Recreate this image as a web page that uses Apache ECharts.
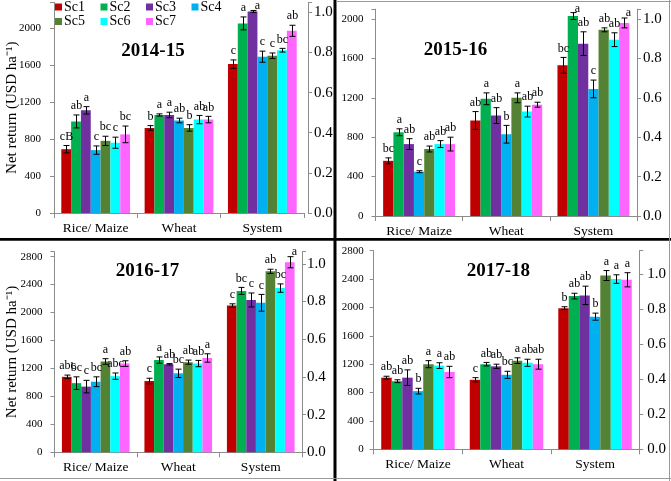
<!DOCTYPE html>
<html><head><meta charset="utf-8">
<script src="https://cdn.jsdelivr.net/npm/echarts@6/dist/echarts.min.js"></script>
<style>html,body{margin:0;padding:0;background:#fff}#c{width:671px;height:481px}</style>
</head><body><div id="c"></div><script>
const categories = ['Rice/ Maize', 'Wheat', 'System'];
const scenarios = ['Sc1', 'Sc2', 'Sc3', 'Sc4', 'Sc5', 'Sc6', 'Sc7'];
const years = ['2014-15', '2015-16', '2016-17', '2017-18'];
const colors = ['#C00000', '#00B050', '#7030A0', '#00B0F0', '#548235', '#00FFFF', '#FF66FF'];
const yName = 'Net return (USD ha\u207B\u00B9)';

// rows = scenarios Sc1..Sc7, cols = Rice/ Maize, Wheat, System
const val1415 = [[690, 920, 1610], [990, 1060, 2050], [1110, 1060, 2180], [680, 1000, 1690], [780, 920, 1700], [760, 1010, 1760], [850, 1010, 1970]];
const err1415 = [[40, 25, 45], [70, 12, 70], [40, 30, 10], [45, 25, 60], [50, 35, 30], [60, 45, 20], [90, 35, 60]];
const let1415 = [['cB', 'b', 'c'], ['ab', 'a', 'a'], ['a', 'a', 'a'], ['c', 'ab', 'c'], ['bc', 'b', 'c'], ['c', 'ab', 'bc'], ['bc', 'ab', 'ab']];

const val1516 = [[560, 970, 1530], [850, 1190, 2030], [730, 1020, 1750], [450, 830, 1290], [680, 1200, 1890], [730, 1060, 1790], [730, 1130, 1960]];
const err1516 = [[30, 90, 80], [35, 60, 35], [55, 80, 120], [10, 90, 90], [30, 50, 20], [35, 55, 70], [70, 25, 50]];
const let1516 = [['bc', 'ab', 'bc'], ['a', 'a', 'a'], ['ab', 'ab', 'ab'], ['c', 'b', 'c'], ['ab', 'a', 'ab'], ['ab', 'ab', 'ab'], ['ab', 'ab', 'a']];

const val1617 = [[1080, 1020, 2100], [990, 1320, 2310], [940, 1260, 2180], [1010, 1130, 2140], [1300, 1290, 2590], [1090, 1270, 2350], [1270, 1350, 2720]];
const err1617 = [[25, 40, 25], [90, 45, 50], [90, 10, 100], [70, 60, 120], [40, 30, 30], [45, 45, 60], [40, 60, 80]];
const let1617 = [['abc', 'c', 'c'], ['bc', 'a', 'bc'], ['c', 'ab', 'c'], ['bc', 'bc', 'c'], ['a', 'ab', 'ab'], ['abc', 'ab', 'bc'], ['ab', 'a', 'a']];

const val1718 = [[1010, 980, 1990], [960, 1200, 2160], [1010, 1170, 2170], [820, 1050, 1870], [1200, 1250, 2450], [1180, 1220, 2400], [1090, 1200, 2390]];
const err1718 = [[20, 30, 20], [20, 25, 40], [110, 30, 130], [40, 50, 50], [50, 40, 70], [40, 50, 60], [80, 70, 100]];
const let1718 = [['ab', 'c', 'b'], ['ab', 'ab', 'ab'], ['ab', 'ab', 'ab'], ['b', 'bc', 'b'], ['a', 'a', 'a'], ['a', 'ab', 'a'], ['ab', 'ab', 'a']];

const netMax = [2276, 2100, 2871, 2800];
const netStep = 400;
const idxMax = [1.049, 1.05, 1.064, 1.135];
const idxStep = 0.2;

const valueSets = [val1415, val1516, val1617, val1718];
const errSets = [err1415, err1516, err1617, err1718];
const letterSets = [let1415, let1516, let1617, let1718];

const SERIF = '"Liberation Serif", "Times New Roman", serif';
const AX = '#8c8c8c';

const layout = [
  { grid: { left: 54, top: 2.5, width: 250, height: 210.5 }, rOff: 4, gap: 0.175, lm: 13, rm: 6, title: [153, 51], name: true },
  { grid: { left: 375.5, top: 9.15, width: 261.5, height: 206.85 }, rOff: 0, gap: 0.175, lm: 12, rm: 6, title: [455.5, 50], name: false },
  { grid: { left: 54.5, top: 251.7, width: 247.5, height: 200.6 }, rOff: 0, gap: 0.18, lm: 12, rm: 5, title: [147.5, 271], name: true },
  { grid: { left: 373.7, top: 250.7, width: 265.6, height: 198.6 }, rOff: 0, gap: 0.17, lm: 10, rm: 8, title: [498.3, 271], name: false }
];

const grid = [], xAxis = [], yAxis = [], series = [], graphic = [];

function makeRender(p, letters) {
  const gapFrac = layout[p].gap;
  return function (params, api) {
    const ci = api.value(0), si = api.value(1), v = api.value(2), e = api.value(3);
    const letter = letters[params.dataIndex];
    const band = api.size([1, 0])[0];
    const groupW = band * (1 - gapFrac);
    const bw = groupW / 7;
    const c = api.coord([ci, v]);
    const x = Math.round(c[0] - groupW / 2 + (si + 0.5) * bw) + 0.5;
    const top = api.coord([ci, v + e])[1];
    const bot = api.coord([ci, v - e])[1];
    const cap = 3;
    const ls = { stroke: '#000', lineWidth: 1 };
    const cs = params.coordSys;
    let tx = x, ty = top - 3, va = 'bottom';
    if (top - 9 < cs.y) { tx = x + 4; ty = Math.max(cs.y, top - 5); va = 'middle'; }
    return {
      type: 'group',
      children: [
        { type: 'line', shape: { x1: x, y1: top, x2: x, y2: bot }, style: ls },
        { type: 'line', shape: { x1: x - cap, y1: top, x2: x + cap, y2: top }, style: ls },
        { type: 'line', shape: { x1: x - cap, y1: bot, x2: x + cap, y2: bot }, style: ls },
        { type: 'text', x: tx, y: ty, style: { text: letter, fontFamily: SERIF, fontSize: 12, fill: '#000', align: 'center', verticalAlign: va } }
      ]
    };
  };
}

for (let p = 0; p < 4; p++) {
  const L = layout[p];
  grid.push(Object.assign({ outerBoundsMode: 'none', containLabel: false }, L.grid));
  xAxis.push({
    type: 'category', gridIndex: p, data: categories,
    axisLine: { show: true, lineStyle: { color: AX, width: 1 } },
    axisTick: { show: true, length: 5, lineStyle: { color: AX } },
    axisLabel: { fontFamily: SERIF, fontSize: 13.5, color: '#000', margin: 8, interval: 0, hideOverlap: false },
    splitLine: { show: false }
  });
  yAxis.push({
    type: 'value', gridIndex: p, position: 'left', min: 0, max: netMax[p], interval: netStep,
    axisLine: { show: true, lineStyle: { color: AX } },
    axisTick: { show: true, length: 4, lineStyle: { color: AX } },
    splitLine: { show: false },
    axisLabel: {
      fontFamily: SERIF, fontSize: 11, color: '#000', margin: L.lm,
      formatter: v => (Math.abs(v / netStep - Math.round(v / netStep)) < 1e-6 ? String(Math.round(v)) : '')
    },
    name: L.name ? yName : '', nameLocation: 'middle', nameRotate: 90, nameGap: 34.5, nameMoveOverlap: false,
    nameTextStyle: { fontFamily: SERIF, fontSize: 15, color: '#000' }
  });
  yAxis.push({
    type: 'value', gridIndex: p, position: 'right', offset: L.rOff, min: 0, max: idxMax[p], interval: idxStep,
    axisLine: { show: true, lineStyle: { color: AX } },
    axisTick: { show: true, length: 4, lineStyle: { color: AX } },
    splitLine: { show: false },
    axisLabel: {
      fontFamily: SERIF, fontSize: 15, color: '#000', margin: L.rm,
      formatter: v => (Math.abs(v / idxStep - Math.round(v / idxStep)) < 1e-6 ? v.toFixed(1) : '')
    }
  });
  const items = [], letters = [];
  for (let s = 0; s < 7; s++) {
    series.push({
      type: 'bar', name: scenarios[s], xAxisIndex: p, yAxisIndex: 2 * p,
      data: valueSets[p][s], itemStyle: { color: colors[s] },
      barGap: '0%', barCategoryGap: (L.gap * 100) + '%', z: 2, animation: false
    });
    for (let c = 0; c < 3; c++) {
      items.push([c, s, valueSets[p][s][c], errSets[p][s][c]]);
      letters.push(letterSets[p][s][c]);
    }
  }
  series.push({
    type: 'custom', name: 'err' + p, xAxisIndex: p, yAxisIndex: 2 * p, data: items,
    encode: { x: 0, y: 2 }, renderItem: makeRender(p, letters), z: 10, clip: false, silent: true
  });
  graphic.push({
    type: 'text', x: L.title[0], y: L.title[1], z: 20,
    style: { text: years[p], fontFamily: SERIF, fontSize: 19, fontWeight: 'bold', fill: '#000', align: 'center', verticalAlign: 'middle' }
  });
}

graphic.push(
  { type: 'rect', shape: { x: 333.5, y: 0, width: 3, height: 481 }, style: { fill: '#000' }, z: 30 },
  { type: 'rect', shape: { x: 0, y: 238, width: 671, height: 2.7 }, style: { fill: '#000' }, z: 30 },
  { type: 'line', shape: { x1: 336, y1: 1.5, x2: 671, y2: 1.5 }, style: { stroke: '#9a9a9a', lineWidth: 1 }, z: 30 },
  { type: 'line', shape: { x1: 669.5, y1: 0, x2: 669.5, y2: 481 }, style: { stroke: '#9a9a9a', lineWidth: 1 }, z: 30 },
  { type: 'line', shape: { x1: 0, y1: 478.5, x2: 671, y2: 478.5 }, style: { stroke: '#9a9a9a', lineWidth: 1 }, z: 30 }
);

const legendBase = {
  orient: 'horizontal', itemWidth: 7, itemHeight: 7, itemGap: 15.5, padding: 0, icon: 'rect',
  textStyle: { fontFamily: SERIF, fontSize: 14, color: '#000', padding: [0, 0, 0, -3] }, selectedMode: false
};
const legend = [
  Object.assign({}, legendBase, { data: scenarios.slice(0, 4), left: 55, top: 0 }),
  Object.assign({}, legendBase, { data: scenarios.slice(4), left: 55, top: 14.5 })
];

const chart = echarts.init(document.getElementById('c'), null, { renderer: 'canvas', width: 671, height: 481 });
chart.setOption({ animation: false, backgroundColor: '#fff', grid, xAxis, yAxis, series, legend, graphic });
</script></body></html>
